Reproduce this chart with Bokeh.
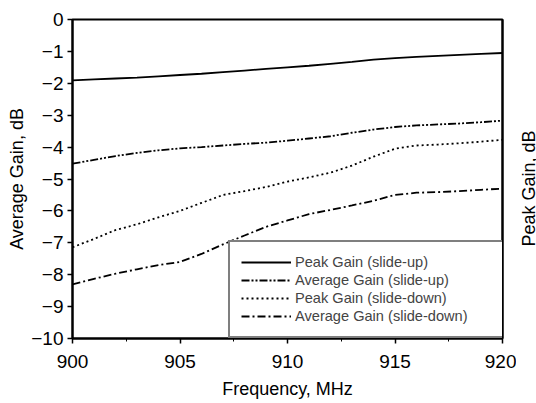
import math
from bokeh.plotting import figure
from bokeh.layouts import row
from bokeh.models import LinearAxis, Range1d, FixedTicker, Legend, LegendItem, Label
from bokeh.embed import file_html
from bokeh.resources import INLINE

freq = [900, 901, 902, 903, 904, 905, 906, 907, 908, 909, 910,
        911, 912, 913, 914, 915, 916, 917, 918, 919, 920]
peak_up = [-1.91, -1.88, -1.85, -1.82, -1.78, -1.74, -1.70, -1.65, -1.60, -1.55, -1.50,
           -1.45, -1.39, -1.33, -1.26, -1.21, -1.17, -1.14, -1.11, -1.08, -1.05]
avg_up = [-4.52, -4.40, -4.28, -4.18, -4.10, -4.04, -4.00, -3.95, -3.90, -3.86, -3.80,
          -3.73, -3.66, -3.55, -3.45, -3.37, -3.32, -3.29, -3.26, -3.22, -3.17]
peak_down = [-7.14, -6.88, -6.60, -6.42, -6.20, -6.00, -5.75, -5.50, -5.38, -5.25, -5.08,
             -4.95, -4.80, -4.58, -4.30, -4.05, -3.95, -3.92, -3.88, -3.83, -3.77]
avg_down = [-8.30, -8.13, -7.97, -7.83, -7.70, -7.60, -7.35, -7.05, -6.77, -6.50, -6.30,
            -6.10, -5.97, -5.83, -5.68, -5.50, -5.43, -5.41, -5.38, -5.34, -5.30]
x_ticks = [900, 905, 910, 915, 920]
y_ticks = [0, -1, -2, -3, -4, -5, -6, -7, -8, -9, -10]
series_names = ["Peak Gain (slide-up)", "Average Gain (slide-up)",
                "Peak Gain (slide-down)", "Average Gain (slide-down)"]

FONT = "Liberation Sans"

p = figure(width=516, height=403, output_backend="svg", toolbar_location=None,
           x_range=Range1d(900, 920), y_range=Range1d(-10, 0),
           min_border_left=72, min_border_right=14, min_border_top=19, min_border_bottom=65)
p.background_fill_color = "white"
p.border_fill_color = "white"
p.grid.visible = False
p.outline_line_color = "black"
p.outline_line_width = 2

p.xaxis.ticker = FixedTicker(ticks=x_ticks, minor_ticks=[902.5, 907.5, 912.5, 917.5])
p.yaxis.ticker = FixedTicker(ticks=y_ticks)
for ax in (p.xaxis[0], p.yaxis[0]):
    ax.axis_line_width = 2
    ax.major_tick_line_width = 1.5
    ax.major_tick_out = 5
    ax.major_tick_in = 0
    ax.minor_tick_out = 3
    ax.minor_tick_in = 0
    ax.major_label_text_font = FONT
    ax.major_label_text_font_size = "19px"
    ax.major_label_text_color = "black"
    ax.axis_label_text_font = FONT
    ax.axis_label_text_font_size = "18px"
    ax.axis_label_text_font_style = "normal"
    ax.axis_label_text_color = "black"
p.yaxis.minor_tick_line_color = None
p.xaxis.axis_label = "Frequency, MHz"
p.yaxis.axis_label = "Average Gain, dB"
p.xaxis.major_label_standoff = 11
p.xaxis.axis_label_standoff = 8
p.yaxis.major_label_standoff = 4
p.yaxis.axis_label_standoff = 1

r_ax = LinearAxis(ticker=FixedTicker(ticks=[]))
r_ax.axis_line_width = 2
r_ax.major_tick_line_color = None
r_ax.minor_tick_line_color = None
r_ax.major_tick_out = 0
r_ax.major_label_standoff = 0
r_ax.major_label_text_font_size = "0px"
p.add_layout(r_ax, "right")

styles = ["solid", "8 2 2 2 2 2", "2 3", "8 3 2 3"]
data = [peak_up, avg_up, peak_down, avg_down]
items = []
for name, ys, dash in zip(series_names, data, styles):
    r = p.line(freq, ys, line_color="black", line_width=1.8, line_dash=dash)
    items.append(LegendItem(label=name, renderers=[r]))

legend = Legend(items=items, location=(156, 0))
legend.label_text_font = FONT
legend.label_text_font_size = "14.6px"
legend.label_height = 18
legend.glyph_height = 18
legend.glyph_width = 50
legend.label_standoff = 4
legend.label_width = 199
legend.spacing = 0
legend.padding = 11
legend.margin = 0
legend.border_line_color = "black"
legend.border_line_width = 2
legend.background_fill_alpha = 1
p.add_layout(legend, "center")

# narrow strip carrying the right-hand axis title, reading bottom-to-top
p2 = figure(width=20, height=403, output_backend="svg", toolbar_location=None,
            x_axis_type=None, y_axis_type=None, min_border=0)
p2.outline_line_color = None
p2.grid.visible = False
p2.background_fill_color = "white"
p2.border_fill_color = "white"
p2.add_layout(Label(text="Peak Gain, dB", x=12, y=150, x_units="screen", y_units="screen",
                    angle=math.pi / 2, text_align="center", text_baseline="alphabetic",
                    text_font=FONT, text_font_size="18px", text_color="black"))

layout = row(p, p2, spacing=0)
open("out.html", "w").write(file_html(layout, INLINE))
